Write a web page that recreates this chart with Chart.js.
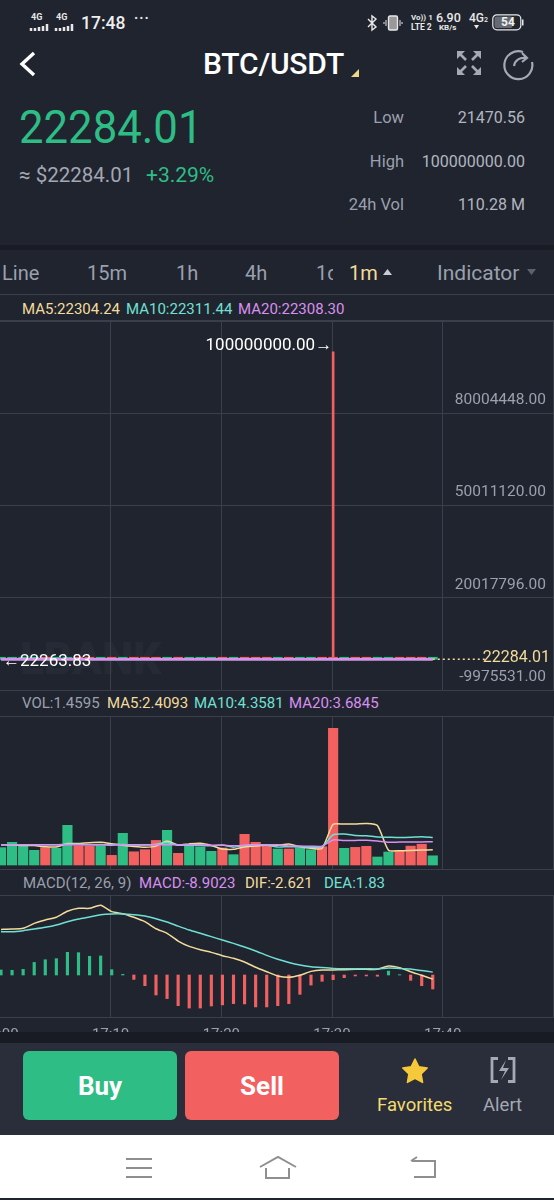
<!DOCTYPE html>
<html>
<head>
<meta charset="utf-8">
<title>BTC/USDT</title>
<script src="https://cdn.jsdelivr.net/npm/chart.js@4"></script>
<style>
html, body { margin: 0; padding: 0; background: #20242f; }
#page { position: relative; width: 554px; height: 1200px; overflow: hidden; background: #20242f; font-family: Roboto, sans-serif; color: #9aa0ad; }
.t { position: absolute; line-height: 0; white-space: nowrap; }
.r { position: absolute; }
.hline { position: absolute; left: 0; width: 554px; height: 1px; background: #3b3f4b; }
canvas { position: absolute; left: 0; }
svg { position: absolute; overflow: visible; }
</style>
</head>
<body>
<div id="page">
  <!-- status bar -->
  <div class="t" style="left:31px;top:17px;font-size:9px;color:#e8e8e8;font-weight:700">4G</div>
  <svg style="left:30px;top:24px" width="20" height="7"><path d="M1 7V4M5 7V4M9 7V3M13 7V2M17 7V0" stroke="#e8e8e8" stroke-width="2.5"/></svg>
  <div class="t" style="left:56px;top:17px;font-size:9px;color:#e8e8e8;font-weight:700">4G</div>
  <svg style="left:55px;top:24px" width="20" height="7"><path d="M1 7V4M5 7V4M9 7V3M13 7V2M17 7V0" stroke="#e8e8e8" stroke-width="2.5"/></svg>
  <div class="t" style="left:81px;top:23px;font-size:17.5px;color:#eeeeee;font-weight:500">17:48</div>
  <div class="t" style="left:134px;top:18px;font-size:14px;color:#e8e8e8;font-weight:700;letter-spacing:1px">···</div>
  <svg style="left:367px;top:15px" width="10" height="16"><path d="M1 4l8 8-4 3V1l4 3-8 8" fill="none" stroke="#e8e8e8" stroke-width="1.4"/></svg>
  <svg style="left:384px;top:15px" width="18" height="16"><rect x="4.5" y="1" width="9" height="14" rx="1.5" fill="#999" stroke="#e8e8e8" stroke-width="1.4"/><path d="M2 5v6M16 5v6M0 7v2M18 7v2" stroke="#e8e8e8"/></svg>
  <div class="t" style="left:411px;top:18px;font-size:8px;color:#e8e8e8;font-weight:700">Vo)) 1</div>
  <div class="t" style="left:411px;top:27px;font-size:8.5px;color:#e8e8e8;font-weight:700">LTE 2</div>
  <div class="t" style="left:436px;top:18px;font-size:12.5px;color:#e8e8e8;font-weight:500">6.90</div>
  <div class="t" style="left:439px;top:28px;font-size:8px;color:#e8e8e8;font-weight:700">KB/s</div>
  <div class="t" style="left:469px;top:18px;font-size:12px;color:#e8e8e8;font-weight:500">4G<span style="font-size:7px">2</span></div>
  <svg style="left:474px;top:25px" width="8" height="5"><path d="M0 0h5L2.5 4z" fill="#e8e8e8"/></svg>
  <svg style="left:492px;top:14px" width="32" height="17"><rect x=".8" y=".8" width="28" height="15" rx="4" fill="none" stroke="#e8e8e8" stroke-width="1.2"/><rect x="2.5" y="2.5" width="18" height="11.5" rx="2" fill="#666a72"/><rect x="30" y="5.5" width="1.5" height="6" fill="#e8e8e8"/></svg>
  <div class="t" style="left:501px;top:22px;font-size:12px;color:#f0f0f0;font-weight:700">54</div>

  <!-- title row -->
  <svg style="left:18px;top:50px" width="20" height="28"><path d="M16 3L4 14l12 11" fill="none" stroke="#fff" stroke-width="3.4"/></svg>
  <div class="t" style="left:203px;top:64px;font-size:30px;color:#fff;font-weight:500;letter-spacing:-.2px">BTC/USDT</div>
  <svg style="left:351px;top:69px" width="9" height="8"><path d="M8 0v8H0z" fill="#f0d58c"/></svg>
  <svg style="left:456px;top:50px" width="28" height="28" fill="none" stroke="#a3a9b5" stroke-width="2.6"><path d="M2 2l8 8M24 2l-8 8M2 24l8-8M24 24l-8-8"/><path d="M1 1h8L1 9zM25 1h-8l8 8zM1 25h8l-8-8zM25 25h-8l8-8z" fill="#a3a9b5" stroke="none"/></svg>
  <svg style="left:503px;top:48px" width="32" height="32" fill="none" stroke="#a3a9b5" stroke-width="2.2"><path d="M20 4A14 14 0 1 0 29 14"/><path d="M11 18c1-6 6-9 12-8M19 5l5 5-5 4"/></svg>

  <!-- price block -->
  <div class="t" style="left:19px;top:127px;font-size:46px;color:#2ebd85;font-weight:400;transform:scaleX(.95);transform-origin:left">22284.01</div>
  <div class="t" style="left:19px;top:175px;font-size:20.5px;color:#a2a7b3">≈ $22284.01</div>
  <div class="t" style="left:146px;top:175px;font-size:21px;color:#2ebd85">+3.29%</div>
  <div class="t" style="right:150px;top:118px;font-size:16.5px">Low</div>
  <div class="t" style="right:29px;top:118px;font-size:16px;color:#b2b6bf">21470.56</div>
  <div class="t" style="right:150px;top:162px;font-size:16.5px">High</div>
  <div class="t" style="right:29px;top:162px;font-size:16px;color:#b2b6bf">100000000.00</div>
  <div class="t" style="right:150px;top:205px;font-size:16.5px">24h Vol</div>
  <div class="t" style="right:29px;top:205px;font-size:16px;color:#b2b6bf">110.28 M</div>

  <!-- period tabs -->
  <div class="r" style="left:0;top:245px;width:554px;height:5px;background:#191c25"></div>
  <div class="t" style="left:2px;top:273px;font-size:20px">Line</div>
  <div class="t" style="left:87px;top:273px;font-size:20px">15m</div>
  <div class="t" style="left:176px;top:273px;font-size:20px">1h</div>
  <div class="t" style="left:245px;top:273px;font-size:20px">4h</div>
  <div class="t" style="left:316px;top:273px;font-size:20px;width:17px;height:24px;line-height:24px;margin-top:-12px;overflow:hidden">1d</div>
  <div class="t" style="left:349px;top:273px;font-size:20px;color:#f3dc9b">1m</div>
  <svg style="left:383px;top:269px" width="10" height="6"><path d="M0 6L4.5 0 9 6z" fill="#c9ccd3"/></svg>
  <div class="t" style="left:437px;top:273px;font-size:21px">Indicator</div>
  <svg style="left:527px;top:269px" width="10" height="6"><path d="M0 0h9L4.5 6z" fill="#5d616c"/></svg>

  <!-- legends -->
  <div class="hline" style="top:294px"></div>
  <div class="t" style="left:22px;top:309px;font-size:15px;color:#f3dc9b">MA5:22304.24</div>
  <div class="t" style="left:126px;top:309px;font-size:15px;color:#70e0d4">MA10:22311.44</div>
  <div class="t" style="left:238px;top:309px;font-size:15px;color:#d98ff0">MA20:22308.30</div>
  <div class="hline" style="top:320px"></div>
  <div class="t" style="left:20px;top:659px;font-size:44px;font-weight:900;color:#262a35">LBANK</div>
  <div class="hline" style="top:690px"></div>
  <div class="t" style="left:22px;top:703px;font-size:15px">VOL:1.4595</div>
  <div class="t" style="left:107px;top:703px;font-size:15px;color:#f3dc9b">MA5:2.4093</div>
  <div class="t" style="left:194px;top:703px;font-size:15px;color:#70e0d4">MA10:4.3581</div>
  <div class="t" style="left:289px;top:703px;font-size:15px;color:#d98ff0">MA20:3.6845</div>
  <div class="hline" style="top:716px"></div>
  <div class="hline" style="top:869px"></div>
  <div class="t" style="left:23px;top:883px;font-size:15px">MACD(12, 26, 9)</div>
  <div class="t" style="left:139px;top:883px;font-size:15px;color:#d98ff0">MACD:-8.9023</div>
  <div class="t" style="left:245px;top:883px;font-size:15px;color:#f3dc9b">DIF:-2.621</div>
  <div class="t" style="left:324px;top:883px;font-size:15px;color:#70e0d4">DEA:1.83</div>
  <div class="hline" style="top:895px"></div>
  <div class="hline" style="top:1017px"></div>

  <canvas id="priceChart" width="554" height="369" style="top:321px"></canvas>
  <canvas id="volChart" width="554" height="153" style="top:716px"></canvas>
  <canvas id="macdChart" width="554" height="142" style="top:895px"></canvas>

  <!-- bottom bar -->
  <div class="r" style="left:0;top:1032px;width:554px;height:11px;background:#181b24"></div>
  <div class="r" style="left:0;top:1043px;width:554px;height:92px;background:#2a2d3a"></div>
  <div class="r" style="left:23px;top:1051px;width:154px;height:69px;border-radius:6px;background:#2ebd85"></div>
  <div class="r" style="left:185px;top:1051px;width:154px;height:69px;border-radius:6px;background:#f26060"></div>
  <div class="t" style="left:23px;width:154px;text-align:center;top:1086px;font-size:26px;font-weight:700;color:#fff">Buy</div>
  <div class="t" style="left:185px;width:154px;text-align:center;top:1086px;font-size:26px;font-weight:700;color:#fff">Sell</div>
  <svg style="left:401px;top:1057px" width="28" height="26"><path d="M14 2l3.8 7.8 8.4 1.2-6.1 6 1.5 8.4L14 21.4l-7.6 4 1.5-8.4-6.1-6 8.4-1.2z" fill="#f5c93a" stroke="#f5c93a" stroke-width="1.5" stroke-linejoin="round"/></svg>
  <div class="t" style="left:377px;top:1105px;font-size:18.5px;color:#f3dc6e">Favorites</div>
  <svg style="left:490px;top:1057px" width="26" height="26" fill="none" stroke="#a3a9b5" stroke-width="2.8"><path d="M8 1.5H2v23h6M18 1.5h6v23h-6"/><path d="M16 3l-7 11h6l-4 9 8-12h-6z" fill="#a3a9b5" stroke="none"/></svg>
  <div class="t" style="left:483px;top:1105px;font-size:18.5px;color:#a3a9b5">Alert</div>

  <!-- nav bar -->
  <div class="r" style="left:0;top:1135px;width:554px;height:63px;background:#fff"></div>
  <svg style="left:126px;top:1157px" width="27" height="22"><path d="M0 2h26M0 11h26M0 20h26" stroke="#8f8f8f" stroke-width="2"/></svg>
  <svg style="left:259px;top:1156px" width="38" height="24" fill="none" stroke="#8f8f8f" stroke-width="2"><path d="M1 11L19 1l18 10M7 12v10h23V12"/></svg>
  <svg style="left:409px;top:1156px" width="28" height="24" fill="none" stroke="#8f8f8f" stroke-width="2"><path d="M3 5h23v16H5M8 1L2 5"/></svg>
</div>

<script>
// one entry per minute candle
const openPrices = [22270, 22282, 22291, 22298, 22305, 22301, 22309, 22326, 22322, 22317,
  22325, 22322, 22334, 22329, 22323, 22314, 22327, 22322, 22329, 22334,
  22338, 22331, 22335, 22322, 22314, 22307, 22313, 22307, 22312, 22317,
  22310, 22302, 22309, 22303, 22298, 22301, 22306, 22301, 22295, 22281];
const closePrices = [22282, 22291, 22298, 22305, 22301, 22309, 22326, 22322, 22317, 22325,
  22322, 22334, 22329, 22323, 22314, 22327, 22322, 22329, 22334, 22338,
  22331, 22335, 22322, 22314, 22307, 22313, 22307, 22312, 22317, 22310,
  22302, 22309, 22303, 22298, 22301, 22306, 22301, 22295, 22281, 22284.01];
const highPrices = [22286, 22295, 22302, 22309, 22308, 22312, 22330, 22329, 22325, 22328,
  22328, 22338, 22337, 22332, 22326, 22331, 22330, 22332, 22338, 22342,
  22340, 22339, 22338, 22325, 22318, 22316, 22316, 22315, 22320, 22320,
  100000000, 22312, 22312, 22306, 22303, 22309, 22309, 22304, 22298, 22289];
const lowPrices = [22263.83, 22279, 22288, 22295, 22298, 22299, 22306, 22319, 22314, 22315,
  22319, 22320, 22326, 22320, 22311, 22312, 22319, 22320, 22327, 22332,
  22328, 22329, 22319, 22311, 22304, 22305, 22304, 22305, 22310, 22307,
  22298, 22300, 22300, 22295, 22296, 22299, 22298, 22292, 22278, 22279];
const priceMa5 = [22290, 22292, 22294, 22296, 22296, 22301, 22308, 22313, 22316, 22320,
  22323, 22324, 22326, 22327, 22324, 22325, 22323, 22322, 22325, 22328,
  22331, 22333, 22331, 22328, 22322, 22318, 22314, 22311, 22312, 22311,
  22312, 22310, 22310, 22306, 22305, 22305, 22306, 22305, 22305, 22304.24];
const priceMa10 = [22288, 22289, 22291, 22292, 22294, 22295, 22298, 22301, 22304, 22308,
  22310, 22313, 22316, 22318, 22319, 22320, 22320, 22322, 22324, 22326,
  22327, 22327, 22326, 22324, 22323, 22321, 22319, 22318, 22317, 22315,
  22314, 22313, 22312, 22311, 22310, 22310, 22310, 22310, 22311, 22311.44];
const priceMa20 = [22286, 22287, 22288, 22289, 22290, 22291, 22292, 22294, 22296, 22298,
  22300, 22302, 22304, 22306, 22308, 22310, 22312, 22314, 22316, 22318,
  22319, 22320, 22320, 22320, 22319, 22318, 22317, 22316, 22315, 22314,
  22313, 22312, 22311, 22311, 22310, 22310, 22309, 22309, 22308, 22308.30];
const lastPriceX = [39, 43.7];
const lastPriceY = [22284.01, 22284.01];
const priceTicks = [-9975531, 20017796, 50011120, 80004448, 109997776];

const volumes = [2.75, 3.6, 3.0, 2.33, 2.75, 2.65, 6.3, 3.07, 2.96, 3.07,
  1.53, 5.03, 2.1, 2.43, 3.9, 5.5, 1.85, 3.07, 2.9, 2.17,
  2.7, 1.64, 4.87, 3.6, 3.07, 2.54, 2.54, 2.75, 2.43, 2.9,
  21.7, 2.65, 2.8, 2.96, 1.27, 2.06, 2.2, 3.0, 3.3, 1.4595];
const volMa5 = [3.2, 3.2, 3.1, 3.1, 2.89, 2.87, 3.41, 3.42, 3.55, 3.61,
  3.39, 3.13, 2.94, 2.83, 3.0, 3.79, 3.16, 3.35, 3.44, 3.1,
  2.54, 2.5, 2.86, 3.0, 3.18, 3.14, 3.32, 2.9, 2.67, 2.63,
  6.46, 6.49, 6.5, 6.6, 6.28, 2.35, 2.26, 2.3, 2.37, 2.4093];
const volMa10 = [3.2, 3.2, 3.2, 3.2, 3.2, 3.2, 3.3, 3.3, 3.2, 3.25,
  3.13, 3.27, 3.18, 3.19, 3.3, 3.59, 3.14, 3.14, 3.14, 3.05,
  3.17, 2.83, 3.1, 3.22, 3.14, 2.84, 2.91, 2.88, 2.83, 2.9,
  4.8, 4.91, 4.7, 4.63, 4.45, 4.41, 4.37, 4.4, 4.48, 4.3581];
const volMa20 = [3.2, 3.2, 3.2, 3.2, 3.2, 3.2, 3.2, 3.2, 3.2, 3.2,
  3.2, 3.2, 3.2, 3.2, 3.2, 3.2, 3.2, 3.2, 3.2, 3.15,
  3.15, 3.05, 3.14, 3.2, 3.22, 3.22, 3.03, 3.01, 2.98, 2.98,
  3.98, 3.87, 3.9, 3.93, 3.8, 3.62, 3.64, 3.64, 3.66, 3.6845];

const macdDif = [29.0, 29.2, 29.7, 32.8, 35.0, 36.7, 40.5, 42.4, 42.4, 44.3,
  40.3, 39.0, 36.7, 33.9, 29.4, 26.5, 21.6, 18.2, 16.1, 14.4,
  12.3, 10.6, 8.3, 4.9, 2.1, -0.6, -1.5, -0.2, 2.3, 3.2,
  3.2, 3.4, 3.6, 3.6, 3.6, 5.7, 4.7, 2.1, -0.2, -2.621];
const macdDea = [27.5, 27.5, 28.2, 29.2, 30.3, 31.8, 33.9, 35.6, 36.9, 38.3,
  38.8, 38.8, 38.3, 37.5, 35.8, 33.7, 31.1, 28.6, 26.5, 24.4,
  22.2, 20.1, 17.8, 15.3, 12.5, 10.0, 8.0, 6.4, 5.3, 4.7,
  4.2, 4.0, 4.0, 4.0, 3.8, 4.4, 4.2, 3.8, 2.8, 1.83];
const macdHist = [3.2, 3.0, 3.6, 8.0, 9.7, 10.4, 14.4, 14.2, 11.9, 12.1,
  3.4, 0.4, -2.8, -6.8, -12.7, -15.0, -19.5, -21.0, -21.0, -19.7,
  -19.0, -18.2, -18.4, -20.3, -20.3, -19.5, -18.2, -12.3, -6.4, -4.0,
  -3.0, -1.7, -0.6, -0.6, -0.8, 2.5, 0.2, -3.4, -6.8, -8.9023];

const gridMinutes = [-0.1, 9.9, 19.9, 29.9, 39.9, 49.9];
const timeLabels = ['17:00', '17:10', '17:20', '17:30', '17:40', ''];

const GREEN = '#2ebd85';
const RED = '#f26060';
const YELLOW = '#f3dc9b';
const CYAN = '#70e0d4';
const PURPLE = '#d98ff0';
const GRID = '#3b3f4b';
const TICK = '#9aa0ad';

const candleColors = closePrices.map((c, i) => c >= openPrices[i] ? GREEN : RED);

function xScale(showLabels) {
    return {
        type: 'linear',
        offset: false,
        min: -0.09,
        max: 49.95,
        afterBuildTicks: axis => { axis.ticks = gridMinutes.map(v => ({ value: v })); },
        grid: { color: GRID, drawTicks: false, offset: false },
        border: { display: false },
        afterFit: axis => {
            axis.height = showLabels ? 20 : 0;
            axis.paddingLeft = 0;
            axis.paddingRight = 0;
        },
        ticks: {
            display: showLabels,
            autoSkip: false,
            maxRotation: 0,
            padding: 9,
            color: TICK,
            font: { family: 'Roboto', size: 15 },
            callback: (v, i) => timeLabels[i]
        }
    };
}

function lineSet(values, color, order, width) {
    return {
        type: 'line',
        data: values.map((v, i) => ({ x: i, y: v })),
        borderColor: color,
        borderWidth: width,
        pointRadius: 0,
        tension: 0.2,
        order: order
    };
}

function paneOptions(yMin, yMax) {
    return {
        responsive: false,
        animation: false,
        events: [],
        layout: { padding: 0 },
        plugins: { legend: { display: false }, tooltip: { enabled: false } },
        scales: {
            x: xScale(false),
            y: { display: false, min: yMin, max: yMax }
        }
    };
}

// price labels that sit next to the marks
const priceLabels = {
    id: 'priceLabels',
    afterDatasetsDraw(chart) {
        const { ctx, scales: { x, y } } = chart;
        const hi = highPrices.indexOf(Math.max(...highPrices));
        const lo = lowPrices.indexOf(Math.min(...lowPrices));
        ctx.save();
        ctx.font = '17px Roboto';
        ctx.textBaseline = 'middle';
        ctx.fillStyle = '#ffffff';
        ctx.textAlign = 'right';
        ctx.fillText(highPrices[hi].toFixed(2) + '→', x.getPixelForValue(hi) - 1, y.getPixelForValue(highPrices[hi]) - 6);
        ctx.textAlign = 'left';
        ctx.fillText('←' + lowPrices[lo].toFixed(2), 3, y.getPixelForValue(lowPrices[lo]) + 3);
        ctx.fillStyle = YELLOW;
        ctx.font = '16px Roboto';
        ctx.textAlign = 'right';
        ctx.fillText(lastPriceY[1].toFixed(2), 550, y.getPixelForValue(lastPriceY[1]) - 1);
        ctx.restore();
    }
};

new Chart(document.getElementById('priceChart'), {
    type: 'bar',
    plugins: [priceLabels],
    data: {
        datasets: [
            lineSet(priceMa20, PURPLE, 1, 2.5),
            lineSet(priceMa10, CYAN, 2, 2),
            lineSet(priceMa5, YELLOW, 3, 2),
            {
                type: 'line',
                data: lastPriceX.map((v, i) => ({ x: v, y: lastPriceY[i] })),
                borderColor: YELLOW,
                borderWidth: 1.5,
                borderDash: [2, 3],
                pointRadius: 0,
                order: 4
            },
            {
                data: openPrices.map((v, i) => ({ x: i, y: [v, closePrices[i]] })),
                backgroundColor: candleColors,
                barThickness: 9,
                minBarLength: 2,
                grouped: false,
                order: 5
            },
            {
                data: lowPrices.map((v, i) => ({ x: i, y: [v, highPrices[i]] })),
                backgroundColor: candleColors,
                barThickness: 2,
                grouped: false,
                order: 6
            }
        ]
    },
    options: {
        responsive: false,
        animation: false,
        events: [],
        layout: { padding: 0 },
        plugins: { legend: { display: false }, tooltip: { enabled: false } },
        scales: {
            x: xScale(false),
            y: {
                position: 'right',
                min: priceTicks[0],
                max: priceTicks[4],
                afterBuildTicks: axis => { axis.ticks = priceTicks.map(v => ({ value: v })); },
                afterFit: axis => {
                    axis.width = 0;
                    axis.paddingTop = 0;
                    axis.paddingBottom = 0;
                },
                grid: { color: GRID, drawTicks: false },
                border: { display: false },
                ticks: {
                    mirror: true,
                    padding: -8,
                    labelOffset: -13,
                    color: TICK,
                    font: { family: 'Roboto', size: 15.5 },
                    callback: v => v === priceTicks[4] ? '' : v.toFixed(2)
                }
            }
        }
    }
});

new Chart(document.getElementById('volChart'), {
    type: 'bar',
    data: {
        datasets: [
            lineSet(volMa20, PURPLE, 1, 1.5),
            lineSet(volMa10, CYAN, 2, 1.5),
            lineSet(volMa5, YELLOW, 3, 1.5),
            {
                data: volumes.map((v, i) => ({ x: i, y: v })),
                backgroundColor: candleColors,
                barThickness: 9.5,
                order: 4
            }
        ]
    },
    options: paneOptions(-0.635, 23.65)
});

const macdOptions = paneOptions(-26.7, 50.86);
macdOptions.scales.x = xScale(true);

new Chart(document.getElementById('macdChart'), {
    type: 'bar',
    data: {
        datasets: [
            lineSet(macdDea, CYAN, 1, 1.5),
            lineSet(macdDif, YELLOW, 2, 1.5),
            {
                data: macdHist.map((v, i) => ({ x: i, y: v })),
                backgroundColor: macdHist.map(v => v >= 0 ? GREEN : RED),
                barThickness: 2.5,
                order: 3
            }
        ]
    },
    options: macdOptions
});
</script>
</body>
</html>
